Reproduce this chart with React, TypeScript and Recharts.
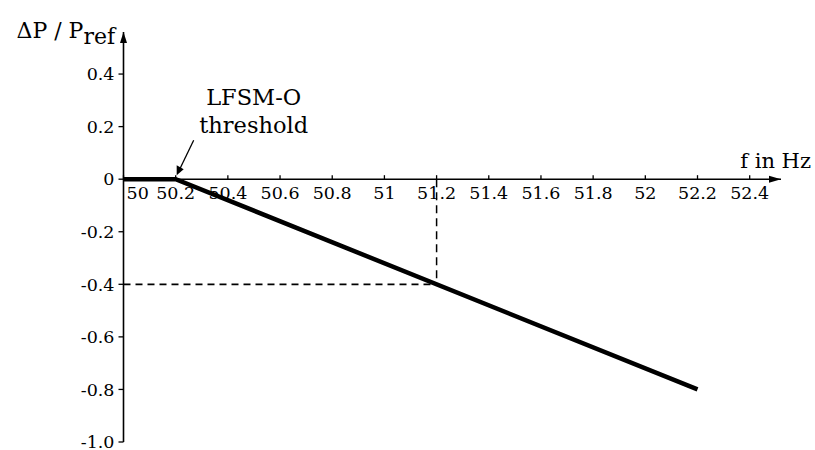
import React from 'react';
import { LineChart, Line, XAxis, YAxis, ReferenceLine, ReferenceDot } from 'recharts';

// frequency (Hz) vs. relative power change
const FREQ = [50, 50.2, 52.2];
const POWER = [0, 0, -0.8];

const X_TICKS = [50, 50.2, 50.4, 50.6, 50.8, 51, 51.2, 51.4, 51.6, 51.8, 52, 52.2, 52.4];
const Y_TICKS = [-1.0, -0.8, -0.6, -0.4, -0.2, 0, 0.2, 0.4];

const X_DOMAIN = [50, 52.52];
const Y_DOMAIN = [-1.0, 0.56];

// dashed guide at 51.2 Hz / -0.4
const GUIDE_F = 51.2;
const GUIDE_P = -0.4;

const THRESHOLD_F = 50.2;
const THRESHOLD_LABEL = ['LFSM-O', 'threshold'];

const data = FREQ.map((f, i) => ({ f, p: POWER[i] }));

const FONT = 'DejaVu Serif';
const TICK_SIZE = 17.5;

const xTickShape = (v: number) => (props: any) => {
    const { cx, cy } = props;
    const first = v === X_TICKS[0];
    return (
        <g>
            <line x1={cx} y1={cy} x2={cx} y2={cy - 4} stroke="#000" strokeWidth={1.3} />
            <text
                x={first ? cx + 3 : cx}
                y={cy + 20}
                textAnchor={first ? 'start' : 'middle'}
                fontFamily={FONT}
                fontSize={TICK_SIZE}
                fill="#000"
            >
                {String(v)}
            </text>
        </g>
    );
};

const xArrowShape = (props: any) => {
    const { cx, cy } = props;
    return (
        <g>
            <path d={`M${cx},${cy} L${cx - 12},${cy - 3.5} L${cx - 12},${cy + 3.5} Z`} fill="#000" />
            <text x={cx + 30} y={cy - 11} textAnchor="end" fontFamily={FONT} fontSize={21} fill="#000">
                f in Hz
            </text>
        </g>
    );
};

const yArrowShape = (props: any) => {
    const { cx, cy } = props;
    return (
        <g>
            <path d={`M${cx},${cy} L${cx - 3.5},${cy + 11} L${cx + 3.5},${cy + 11} Z`} fill="#000" />
            <text x={cx - 107} y={cy + 6} fontFamily={FONT} fontSize={22} fill="#000">
                ΔP / P
                <tspan dy={6}>ref</tspan>
            </text>
        </g>
    );
};

const thresholdShape = (props: any) => {
    const { cx, cy } = props;
    return (
        <g>
            <line x1={cx + 18} y1={cy - 39} x2={cx + 4} y2={cy - 10} stroke="#000" strokeWidth={1.3} />
            <path d={`M${cx + 1},${cy - 4} L${cx + 1},${cy - 14} L${cx + 8},${cy - 10} Z`} fill="#000" />
            <text x={cx + 78} y={cy - 74} textAnchor="middle" fontFamily={FONT} fontSize={22.5} fill="#000">
                {THRESHOLD_LABEL[0]}
            </text>
            <text x={cx + 78} y={cy - 46} textAnchor="middle" fontFamily={FONT} fontSize={22.5} fill="#000">
                {THRESHOLD_LABEL[1]}
            </text>
        </g>
    );
};

export default function App() {
    return (
        <div style={{ position: 'absolute', left: 0, top: 0, background: '#fff' }}>
            <LineChart
                width={815}
                height={450}
                data={data}
                margin={{ top: 32, right: 34, bottom: 8, left: 63.5 }}
            >
                <XAxis
                    type="number"
                    dataKey="f"
                    domain={X_DOMAIN}
                    allowDataOverflow
                    hide
                />
                <YAxis
                    type="number"
                    domain={Y_DOMAIN}
                    ticks={Y_TICKS}
                    allowDataOverflow
                    width={60}
                    tickSize={5}
                    tickMargin={4}
                    interval={0}
                    tickFormatter={(v: number) => (v === 0 ? '0' : v.toFixed(1))}
                    axisLine={{ stroke: '#000', strokeWidth: 1.6 }}
                    tickLine={{ stroke: '#000', strokeWidth: 1.3 }}
                    tick={{ fill: '#000', fontSize: TICK_SIZE, fontFamily: FONT }}
                />

                {/* x axis drawn through zero */}
                <ReferenceLine y={0} stroke="#000" strokeWidth={1.6} />

                {/* dashed guides */}
                <ReferenceLine
                    segment={[{ x: X_DOMAIN[0], y: GUIDE_P }, { x: GUIDE_F, y: GUIDE_P }]}
                    stroke="#000"
                    strokeWidth={1.8}
                    strokeDasharray="7 5"
                />
                <ReferenceLine
                    segment={[{ x: GUIDE_F, y: 0 }, { x: GUIDE_F, y: GUIDE_P }]}
                    stroke="#000"
                    strokeWidth={1.5}
                    strokeDasharray="8 5"
                />

                {X_TICKS.map(v => (
                    <ReferenceDot key={v} x={v} y={0} r={0} shape={xTickShape(v)} />
                ))}
                <ReferenceDot x={X_DOMAIN[1]} y={0} r={0} shape={xArrowShape} />
                <ReferenceDot x={X_DOMAIN[0]} y={Y_DOMAIN[1]} r={0} shape={yArrowShape} />
                <ReferenceDot x={THRESHOLD_F} y={0} r={0} shape={thresholdShape} />

                <Line
                    type="linear"
                    dataKey="p"
                    stroke="#000"
                    strokeWidth={4.5}
                    dot={false}
                    activeDot={false}
                    isAnimationActive={false}
                />
            </LineChart>
        </div>
    );
}
